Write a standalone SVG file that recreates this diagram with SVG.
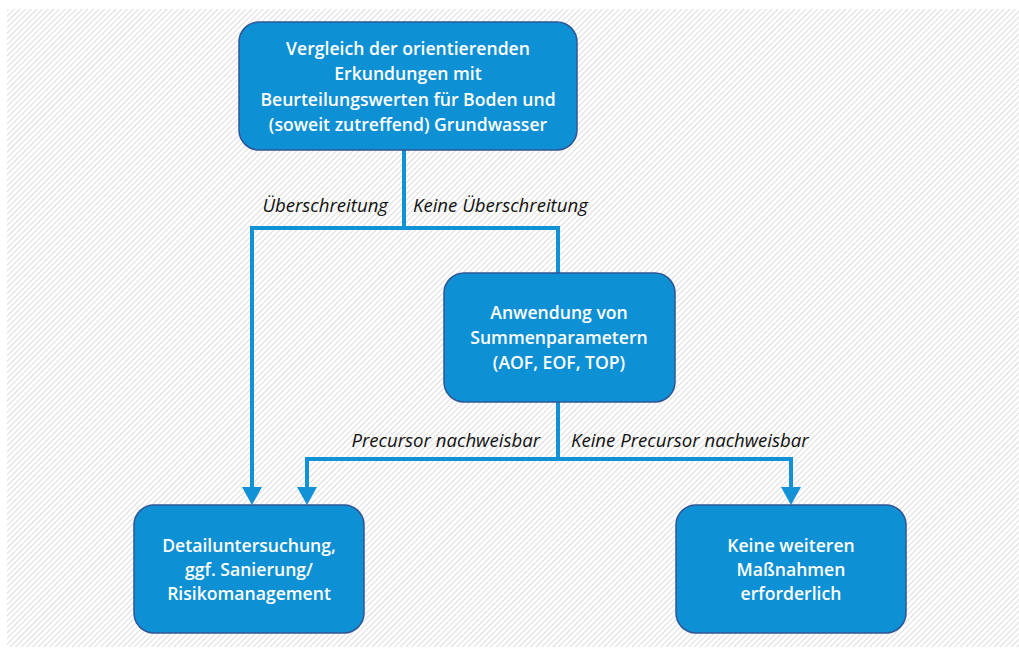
<svg xmlns="http://www.w3.org/2000/svg" width="1019" height="650" viewBox="0 0 1019 650">
<style>
.node rect{fill:#0e90d5;stroke:#2f5597;stroke-width:1.5}
.nt{font-family:"Open Sans","Liberation Sans",sans-serif;font-weight:600;font-size:17.6px;fill:#fff;text-anchor:middle}
.lbl{font-family:"Open Sans","Liberation Sans",sans-serif;font-style:italic;font-size:18.6px;fill:#111}
.conn{fill:none;stroke:#1191d6;stroke-width:4}
.arr{fill:#1191d6}
</style>
<defs>
<pattern id="hatch" width="4" height="4" patternUnits="userSpaceOnUse" patternTransform="rotate(45)">
<rect width="4" height="4" fill="#ffffff"/>
<line x1="0" y1="0" x2="0" y2="4" stroke="#d4d4d4" stroke-width="1.6"/>
</pattern>
</defs>
<rect width="1019" height="650" fill="#fff"/>
<rect x="7" y="9" width="1012" height="638" fill="url(#hatch)"/>
<g id="connectors">
<path class="conn" d="M404,150 V228"/>
<path class="conn" d="M252,228 H558 V273"/>
<path class="conn" d="M252,226 V490"/>
<path class="conn" d="M558,402 V459"/>
<path class="conn" d="M307,459 H791"/>
<path class="conn" d="M307,457 V490"/>
<path class="conn" d="M791,457 V490"/>
<path class="arr" d="M242,487 L262,487 L252,505 Z"/>
<path class="arr" d="M297,487 L317,487 L307,505 Z"/>
<path class="arr" d="M781,487 L801,487 L791,505 Z"/>
<text class="lbl" x="388" y="212" text-anchor="end">Überschreitung</text>
<text class="lbl" x="413" y="212">Keine Überschreitung</text>
<text class="lbl" x="540" y="447" text-anchor="end">Precursor nachweisbar</text>
<text class="lbl" x="571" y="447">Keine Precursor nachweisbar</text>
</g>
<g id="n1" class="node">
<rect x="239" y="22" width="338" height="128" rx="20"/>
<text class="nt" x="408" y="55">Vergleich der orientierenden</text>
<text class="nt" x="408" y="80">Erkundungen mit</text>
<text class="nt" x="408" y="106">Beurteilungswerten für Boden und</text>
<text class="nt" x="408" y="131">(soweit zutreffend) Grundwasser</text>
</g>
<g id="n2" class="node">
<rect x="444" y="273" width="231" height="129" rx="20"/>
<text class="nt" x="559" y="319">Anwendung von</text>
<text class="nt" x="559" y="344">Summenparametern</text>
<text class="nt" x="559" y="369">(AOF, EOF, TOP)</text>
</g>
<g id="n3" class="node">
<rect x="134" y="505" width="230" height="128" rx="20"/>
<text class="nt" x="249" y="552">Detailuntersuchung,</text>
<text class="nt" x="249" y="576">ggf. Sanierung/</text>
<text class="nt" x="249" y="600">Risikomanagement</text>
</g>
<g id="n4" class="node">
<rect x="676" y="505" width="230" height="128" rx="20"/>
<text class="nt" x="791" y="552">Keine weiteren</text>
<text class="nt" x="791" y="576">Maßnahmen</text>
<text class="nt" x="791" y="600">erforderlich</text>
</g>
</svg>
